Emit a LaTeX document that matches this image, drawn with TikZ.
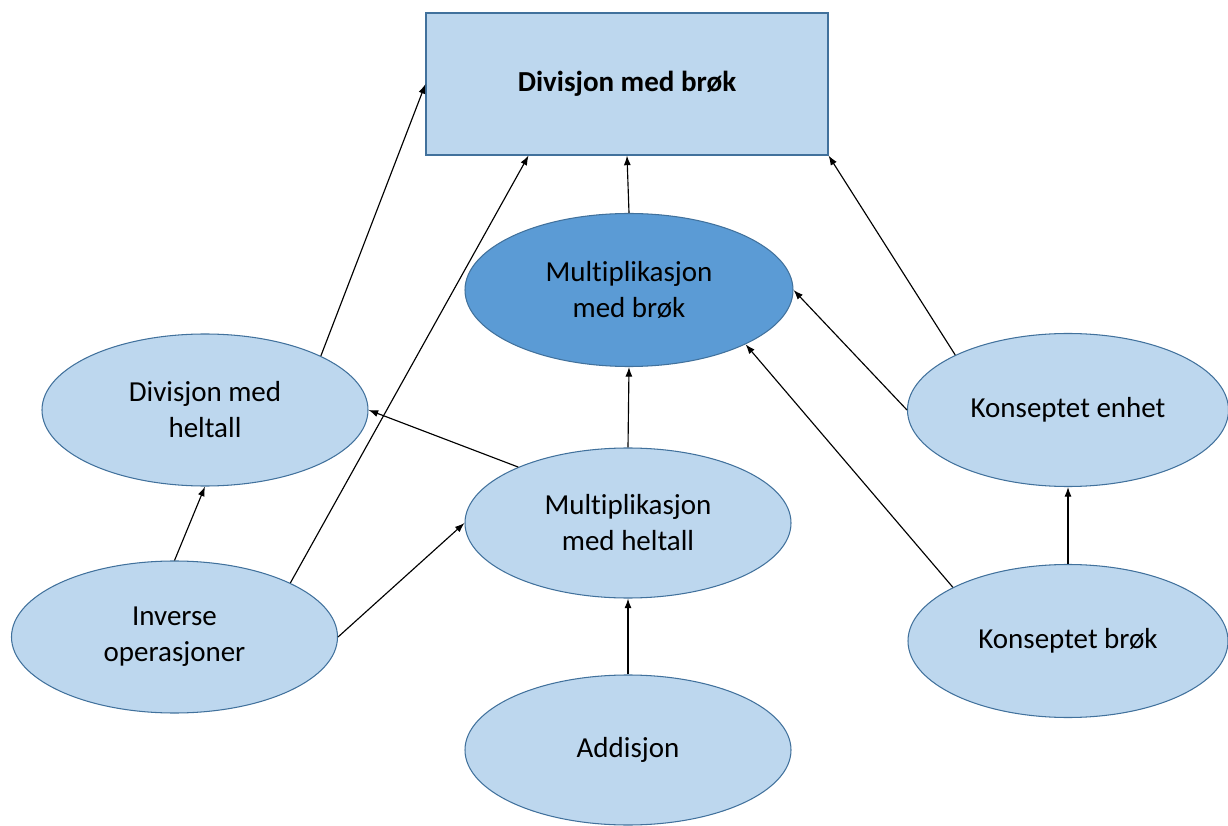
\documentclass[tikz,border=0pt]{standalone}
\usepackage{fontspec}
\setmainfont{Carlito}[Ligatures=NoCommon]
\usepackage{xcolor}
\usepackage{tikz}
\usetikzlibrary{shapes.geometric, arrows.meta, positioning}

\definecolor{lightblue}{HTML}{BDD7EE}
\definecolor{darkblue}{HTML}{5B9BD5}
\definecolor{edgeblue}{HTML}{41719C}

\tikzset{
    topic/.style={ellipse,draw=edgeblue,fill=lightblue,line width=0.6pt,inner sep=0pt,
        minimum width=6.52cm,minimum height=3.04cm,align=center,
        font=\fontsize{16.5}{20.5}\selectfont},
    goal/.style={rectangle,draw=edgeblue,fill=lightblue,line width=0.6pt,
        minimum width=8.04cm,minimum height=2.84cm,
        font=\fontsize{16.5}{20.5}\selectfont\bfseries},
    link/.style={-{Latex[length=5.5pt,width=4pt]},line width=0.65pt}
}

\begin{document}
\begin{tikzpicture}
    \useasboundingbox (0,0) rectangle (24.56,-16.52);

    % nodes
    \node[goal] (target) at (12.54,-1.68) {Divisjon med brøk};
    \node[topic,fill=darkblue,minimum width=6.56cm,minimum height=3.06cm] (multbrok) at (12.58,-5.80) {Multiplikasjon\\med brøk};
    \node[topic] (divheltall) at (4.10,-8.20) {Divisjon med\\heltall};
    \node[topic,minimum height=3.0cm] (multheltall) at (12.56,-10.46) {Multiplikasjon\\med heltall};
    \node[topic] (inverse) at (3.49,-12.74) {Inverse\\operasjoner};
    \node[topic,minimum height=3.0cm] (addisjon) at (12.56,-15.0) {Addisjon};
    \node[topic,minimum width=6.42cm,minimum height=3.06cm] (enhet) at (21.36,-8.20) {Konseptet enhet};
    \node[topic,minimum width=6.40cm,minimum height=3.06cm] (konbrok) at (21.36,-12.82) {Konseptet brøk};

    % arrows
    \draw[link] (divheltall.25.6) -- (target.west);
    \draw[link] (inverse.25) -- (target.216.8);
    \draw[link] (multbrok.north) -- (target.south);
    \draw[link] (enhet.154) -- (target.south east);
    \draw[link] (enhet.west) -- (multbrok.east);
    \draw[link] (konbrok.155) -- (multbrok.-25.4);
    \draw[link] (multheltall.north) -- (multbrok.south);
    \draw[link] (multheltall.153.8) -- (divheltall.east);
    \draw[link] (inverse.north) -- (divheltall.south);
    \draw[link] (inverse.east) -- (multheltall.west);
    \draw[link] (addisjon.north) -- (multheltall.south);
    \draw[link] (konbrok.north) -- (enhet.south);
\end{tikzpicture}
\end{document}
